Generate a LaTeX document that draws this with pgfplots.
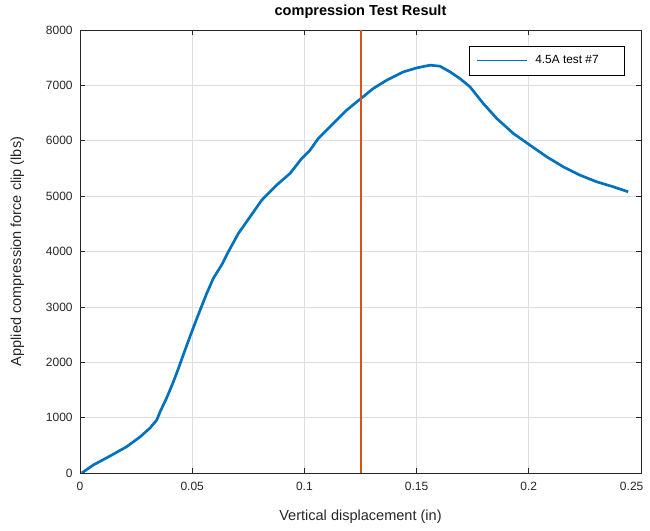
\documentclass[border=0pt]{standalone}
\usepackage{pgfplots}
\pgfplotsset{compat=1.18}
\usepackage{fontspec}
\setmainfont{Liberation Sans}

\definecolor{mlblue}{RGB}{0,114,189}
\definecolor{mlorange}{RGB}{217,83,25}
\definecolor{mlaxis}{RGB}{38,38,38}

% Load--displacement record of the clip compression test
\pgfplotstableread{
x      y
0.0008 0
0.0059 144
0.0134 307
0.0208 475
0.0267 650
0.0312 812
0.0342 957
0.0357 1106
0.0386 1354
0.0414 1625
0.0437 1870
0.0468 2220
0.0498 2550
0.0535 2940
0.0565 3245
0.0594 3515
0.0631 3755
0.0661 3995
0.0706 4327
0.0758 4627
0.0810 4928
0.0876 5199
0.0936 5410
0.0988 5680
0.1025 5830
0.1062 6041
0.1129 6312
0.1188 6552
0.1248 6750
0.1307 6944
0.1367 7094
0.1441 7244
0.1500 7315
0.1560 7365
0.1604 7347
0.1649 7244
0.1693 7124
0.1738 6973
0.1797 6673
0.1857 6403
0.1931 6132
0.2005 5921
0.2080 5710
0.2154 5529
0.2228 5379
0.2303 5258
0.2377 5168
0.2443 5078
}\testdata

\begin{document}
\begin{tikzpicture}
\begin{axis}[
  scale only axis,
  width=420.75pt, height=332.25pt,
  xmin=0, xmax=0.25, ymin=0, ymax=8000,
  xtick={0,0.05,0.1,0.15,0.2,0.25},
  xticklabels={0,0.05,0.1,0.15,0.2,{\hbox to 0pt{\hss 0.25\hskip 14pt\hss}}},
  ytick={0,1000,2000,3000,4000,5000,6000,7000,8000},
  yticklabels={0,1000,2000,3000,4000,5000,6000,7000,8000},
  tick pos=both,
  xticklabel pos=lower,
  yticklabel pos=left,
  tick align=inside,
  major tick length=4pt,
  tick style={mlaxis, line width=0.5pt},
  axis line style={mlaxis, line width=0.6pt},
  grid=major,
  major grid style={black!13, line width=0.5pt},
  ticklabel style={font=\fontsize{9}{10}\selectfont, text=mlaxis},
  yticklabel style={xshift=-2pt},
  xticklabel style={yshift=-3pt},
  xlabel={Vertical displacement (in)},
  ylabel={Applied compression force clip (lbs)},
  xlabel style={font=\fontsize{10.9}{12}\selectfont, text=mlaxis, at={(axis description cs:0.5,-0.0993)}, anchor=center},
  ylabel style={font=\fontsize{10.9}{12}\selectfont, text=mlaxis, at={(axis description cs:-0.1117,0.5)}, anchor=center},
  legend style={
    at={(rel axis cs:0.9715,0.9639)}, anchor=north east,
    draw=black, line width=0.5pt, fill=white,
    font=\fontsize{8.9}{10}\selectfont,
    inner xsep=5pt, inner ysep=5pt,
  },
  legend cell align=left,
  legend image code/.code={\draw[#1, line width=0.8pt] (0pt,0pt) -- (37.5pt,0pt);},
]
\addplot[mlblue, line width=2pt] table[x=x, y=y] {\testdata};
\addlegendentry{\hspace{4pt}\makebox[60pt][l]{4.5A test \#7}}
\addplot[mlorange, line width=0.9pt, forget plot] coordinates {(0.1252,0) (0.1252,8000)};
\end{axis}
% chart title, centred over the plot box
\node[anchor=center, yshift=13.5pt, font=\fontsize{10.9}{12}\selectfont\bfseries]
  at (current axis.north) {compression Test Result};
\pgfresetboundingbox
\path[use as bounding box] (current axis.south west) ++(-60pt,-43.5pt) rectangle ++(487.5pt,398.25pt);
\end{tikzpicture}
\end{document}
